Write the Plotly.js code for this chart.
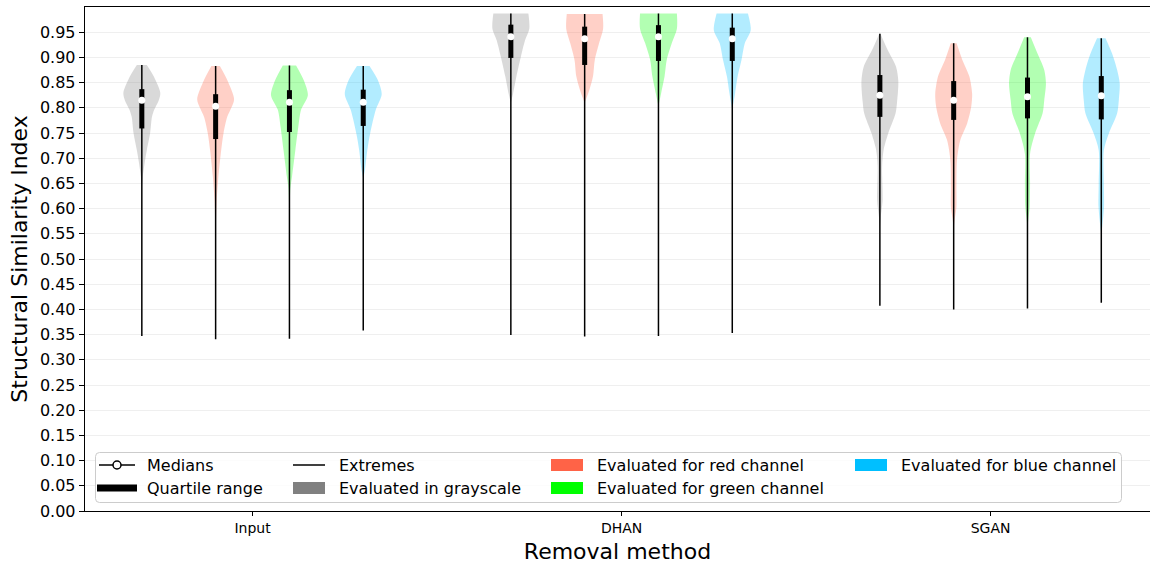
<!DOCTYPE html>
<html>
<head>
<meta charset="utf-8">
<script src="https://cdn.plot.ly/plotly-3.0.1.min.js"></script>
<style>html,body{margin:0;padding:0;background:#fff;}#chart{width:1150px;height:568px;}</style>
</head>
<body>
<div id="chart"></div>
<script>
// ---------------- DATA ----------------
const groups = ['Input', 'DHAN', 'SGAN'];
const channels = ['Evaluated in grayscale', 'Evaluated for red channel', 'Evaluated for green channel', 'Evaluated for blue channel'];
const channelColors = ['#808080', '#ff6347', '#00ff00', '#00bfff'];

// per group, per channel (gray, red, green, blue)
const mins    = [[0.347, 0.341, 0.342, 0.358], [0.349, 0.346, 0.347, 0.353], [0.407, 0.400, 0.402, 0.413]];
const q1s     = [[0.759, 0.738, 0.752, 0.764], [0.899, 0.885, 0.893, 0.893], [0.782, 0.776, 0.779, 0.777]];
const medians = [[0.815, 0.803, 0.811, 0.811], [0.941, 0.937, 0.941, 0.937], [0.825, 0.815, 0.822, 0.824]];
const q3s     = [[0.837, 0.827, 0.835, 0.836], [0.965, 0.961, 0.964, 0.959], [0.865, 0.853, 0.860, 0.863]];
const maxs    = [[0.885, 0.883, 0.884, 0.883], [0.987, 0.986, 0.987, 0.987], [0.947, 0.928, 0.940, 0.938]];

// kernel density profiles (SSIM level, relative density), top -> bottom
const inputLevels = [
  [0.885, 0.862, 0.830, 0.815, 0.796, 0.782, 0.750, 0.716, 0.690, 0.663, 0.640],
  [0.883, 0.855, 0.817, 0.800, 0.782, 0.750, 0.716, 0.663, 0.617, 0.550],
  [0.884, 0.855, 0.825, 0.796, 0.762, 0.716, 0.663, 0.640, 0.550],
  [0.883, 0.855, 0.827, 0.796, 0.750, 0.716, 0.676, 0.660]
];
const inputDensity = [
  [0.27, 0.65, 1.00, 0.92, 0.67, 0.55, 0.45, 0.27, 0.15, 0.05, 0],
  [0.23, 0.63, 1.00, 0.85, 0.63, 0.43, 0.30, 0.15, 0.06, 0],
  [0.36, 0.77, 1.00, 0.63, 0.48, 0.32, 0.14, 0.05, 0],
  [0.34, 0.79, 1.00, 0.68, 0.38, 0.22, 0.09, 0]
];
const dhanLevels = [
  [0.987, 0.957, 0.934, 0.901, 0.862, 0.828, 0.810],
  [0.986, 0.957, 0.928, 0.895, 0.862, 0.835, 0.810],
  [0.987, 0.957, 0.928, 0.895, 0.862, 0.828, 0.803],
  [0.987, 0.954, 0.928, 0.895, 0.862, 0.828, 0.797]
];
const dhanDensity = [
  [0.95, 1.00, 0.77, 0.54, 0.30, 0.12, 0],
  [0.97, 1.00, 0.78, 0.55, 0.45, 0.25, 0],
  [1.00, 1.00, 0.72, 0.45, 0.33, 0.14, 0],
  [0.85, 1.00, 0.68, 0.50, 0.29, 0.15, 0]
];
const sganLevels = [
  [0.947, 0.914, 0.881, 0.852, 0.811, 0.789, 0.749, 0.716, 0.683, 0.617, 0.584, 0.560],
  [0.928, 0.895, 0.862, 0.828, 0.802, 0.769, 0.736, 0.696, 0.643, 0.603, 0.577, 0.560],
  [0.940, 0.907, 0.875, 0.848, 0.815, 0.789, 0.749, 0.709, 0.650, 0.604, 0.577, 0.560],
  [0.938, 0.907, 0.875, 0.848, 0.815, 0.789, 0.749, 0.716, 0.650, 0.604, 0.564, 0.550]
];
const sganDensity = [
  [0.03, 0.43, 0.88, 1.00, 0.93, 0.85, 0.45, 0.20, 0.12, 0.15, 0.05, 0],
  [0.16, 0.47, 0.85, 1.00, 0.95, 0.73, 0.36, 0.18, 0.15, 0.15, 0.05, 0],
  [0.18, 0.55, 0.91, 1.00, 0.91, 0.82, 0.41, 0.14, 0.14, 0.12, 0.04, 0],
  [0.23, 0.59, 0.86, 1.00, 0.95, 0.86, 0.41, 0.14, 0.14, 0.15, 0.05, 0]
];

const legendItems = ['Medians', 'Quartile range', 'Extremes'];
const yTicks = [0.00,0.05,0.10,0.15,0.20,0.25,0.30,0.35,0.40,0.45,0.50,0.55,0.60,0.65,0.70,0.75,0.80,0.85,0.90,0.95];

// ---------------- BUILD ----------------
const levels = [inputLevels, dhanLevels, sganLevels];
const densities = [inputDensity, dhanDensity, sganDensity];
const offsets = [-0.3, -0.1, 0.1, 0.3];
const halfWidth = 0.05;
const FONT = 'DejaVu Sans, Verdana, sans-serif';

function rgba(hex, a) {
  const r = parseInt(hex.slice(1,3),16), g = parseInt(hex.slice(3,5),16), b = parseInt(hex.slice(5,7),16);
  return `rgba(${r},${g},${b},${a})`;
}

const traces = [];
// violin bodies
for (let g = 0; g < groups.length; g++) {
  for (let c = 0; c < channels.length; c++) {
    const cx = g + offsets[c];
    const L = levels[g][c], D = densities[g][c];
    const xs = [], ys = [];
    for (let i = 0; i < L.length; i++) { xs.push(cx + D[i]*halfWidth); ys.push(L[i]); }
    for (let i = L.length - 1; i >= 0; i--) { xs.push(cx - D[i]*halfWidth); ys.push(L[i]); }
    traces.push({
      type: 'scatter', mode: 'lines', x: xs, y: ys, fill: 'toself',
      fillcolor: rgba(channelColors[c], 0.3), line: {width: 0, shape: 'spline', smoothing: 0.8},
      showlegend: false, hoverinfo: 'skip'
    });
  }
}
// extremes, quartiles, medians
for (let g = 0; g < groups.length; g++) {
  for (let c = 0; c < channels.length; c++) {
    const cx = g + offsets[c];
    traces.push({type:'scatter', mode:'lines', x:[cx,cx], y:[mins[g][c], maxs[g][c]],
      line:{color:'#000', width:1.5}, showlegend:false, hoverinfo:'skip'});
    traces.push({type:'scatter', mode:'lines', x:[cx,cx], y:[q1s[g][c], q3s[g][c]],
      line:{color:'#000', width:5}, showlegend:false, hoverinfo:'skip'});
    traces.push({type:'scatter', mode:'markers', x:[cx], y:[medians[g][c]],
      marker:{color:'#fff', size:7, line:{width:0}}, showlegend:false, hoverinfo:'skip'});
  }
}

// ---------------- LEGEND (drawn) ----------------
const ML = 85, MT = 7, PW = 1065, PH = 504;
const px = v => (v - ML) / PW;
const py = v => (MT + PH - v) / PH;
const shapes = [];
const annotations = [];
// box with rounded corners
(function(){
  const x0=95.5, x1=1121.5, y0=452.5, y1=502.5, r=4;
  const p = (x,y) => `${px(x)},${py(y)}`;
  shapes.push({type:'path', xref:'paper', yref:'paper',
    path:`M${p(x0+r,y0)} L${p(x1-r,y0)} Q${p(x1,y0)} ${p(x1,y0+r)} L${p(x1,y1-r)} Q${p(x1,y1)} ${p(x1-r,y1)} L${p(x0+r,y1)} Q${p(x0,y1)} ${p(x0,y1-r)} L${p(x0,y0+r)} Q${p(x0,y0)} ${p(x0+r,y0)} Z`,
    fillcolor:'rgba(255,255,255,0.8)', line:{color:'#cccccc', width:1}, layer:'above'});
})();
const row1 = 465, row2 = 488;
// Medians
shapes.push({type:'line', xref:'paper', yref:'paper', x0:px(99), x1:px(135), y0:py(row1), y1:py(row1), line:{color:'#000', width:1.5}});
shapes.push({type:'circle', xref:'paper', yref:'paper', x0:px(113), x1:px(121), y0:py(row1+4), y1:py(row1-4), fillcolor:'#fff', line:{color:'#000', width:1.5}});
// Quartile range
shapes.push({type:'rect', xref:'paper', yref:'paper', x0:px(97), x1:px(137), y0:py(row2+3.5), y1:py(row2-3.5), fillcolor:'#000', line:{width:0}});
// Extremes
shapes.push({type:'line', xref:'paper', yref:'paper', x0:px(293), x1:px(325), y0:py(row1), y1:py(row1), line:{color:'#000', width:1.5}});
// channel swatches
const swatchPos = [[293,row2],[551,row1],[551,row2],[855,row1]];
for (let c = 0; c < channels.length; c++) {
  const [sx, sy] = swatchPos[c];
  shapes.push({type:'rect', xref:'paper', yref:'paper', x0:px(sx), x1:px(sx+32), y0:py(sy+6), y1:py(sy-6), fillcolor:channelColors[c], line:{width:0}});
}
const textPos = [[145,row1],[145,row2],[337,row1]];
const allText = legendItems.concat(channels);
const allPos = textPos.concat([[337,row2],[595,row1],[595,row2],[899,row1]]);
for (let i = 0; i < allText.length; i++) {
  annotations.push({xref:'paper', yref:'paper', x:px(allPos[i][0]), y:py(allPos[i][1]), xanchor:'left', yanchor:'middle',
    text: allText[i], showarrow:false, font:{family:FONT, size:16, color:'#000'}});
}

const layout = {
  width: 1150, height: 568,
  margin: {l: ML, r: 0, t: MT, b: 568 - MT - PH, pad: 0},
  paper_bgcolor: '#fff', plot_bgcolor: '#fff',
  font: {family: FONT, color: '#000'},
  showlegend: false,
  xaxis: {
    range: [-0.454, 2.432], tickvals: [0,1,2], ticktext: groups,
    showgrid: false, zeroline: false, showline: true, mirror: true, linecolor: '#000', linewidth: 1.3,
    ticks: 'outside', ticklen: 4, tickwidth: 1, tickcolor: '#000',
    tickfont: {family: FONT, size: 14, color: '#000'},
    title: {text: 'Removal method', font: {family: FONT, size: 22, color: '#000'}, standoff: 8}
  },
  yaxis: {
    range: [0, 1.0], tickvals: yTicks, ticktext: yTicks.map(v => v.toFixed(2)),
    showgrid: true, gridcolor: '#efefef', gridwidth: 1, zeroline: false,
    showline: true, linecolor: '#000', linewidth: 1.3,
    ticks: 'outside', ticklen: 5, tickwidth: 1, tickcolor: '#000',
    tickfont: {family: FONT, size: 16, color: '#000'},
    title: {text: 'Structural Similarity Index', font: {family: FONT, size: 22, color: '#000'}, standoff: 6}
  },
  shapes: shapes,
  annotations: annotations
};

Plotly.newPlot('chart', traces, layout, {displayModeBar: false, staticPlot: true});
</script>
</body>
</html>
